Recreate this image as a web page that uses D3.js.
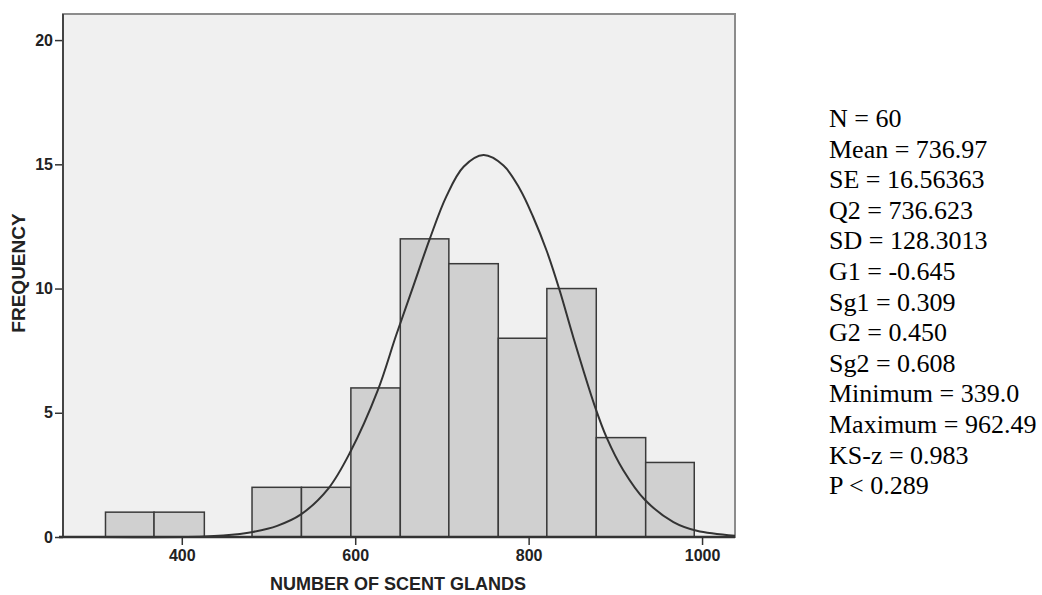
<!DOCTYPE html>
<html>
<head>
<meta charset="utf-8">
<script src="https://cdn.jsdelivr.net/npm/d3@7"></script>
<style>
  body { margin: 0; background: #fff; }
  svg text { font-family: "Liberation Sans", Arial, sans-serif; }
</style>
</head>
<body>
<div id="chart"></div>
<script>
// histogram bins (edges) and counts
const binEdges = [312, 368, 426, 481, 538, 595, 652, 708, 765, 821, 878, 935, 991];
const counts = [1, 1, 0, 2, 2, 6, 12, 11, 8, 10, 4, 3];

// fitted normal curve [value, frequency]
const curveX = [300, 426, 467, 482, 510, 537, 569, 594, 626, 647, 667, 686, 705, 725, 748, 771, 790, 805, 821, 836, 851, 876, 890, 909, 934, 967, 994, 1038];
const curveY = [0, 0.02, 0.12, 0.2, 0.45, 0.9, 1.95, 3.4, 5.9, 8.1, 10.1, 12.0, 13.7, 14.9, 15.37, 14.95, 14.0, 12.9, 11.5, 9.9, 8.1, 5.3, 4.0, 2.7, 1.5, 0.6, 0.25, 0.05];

const xTicks = [400, 600, 800, 1000];
const yTicks = [0, 5, 10, 15, 20];

const statLines = [
  "N = 60", "Mean = 736.97", "SE = 16.56363", "Q2 = 736.623", "SD = 128.3013",
  "G1 = -0.645", "Sg1 = 0.309", "G2 = 0.450", "Sg2 = 0.608",
  "Minimum = 339.0", "Maximum = 962.49", "KS-z = 0.983", "P < 0.289"
];

const W = 1042, H = 595;
const plot = { left: 63, top: 14, right: 735, bottom: 537 };

const svg = d3.select("#chart").append("svg")
  .attr("width", W)
  .attr("height", H);

const x = d3.scaleLinear().domain([263, 1038]).range([plot.left, plot.right]);
const y = d3.scaleLinear().domain([0, 21.05]).range([plot.bottom, plot.top]);

// plot background
svg.append("rect")
  .attr("x", plot.left)
  .attr("y", plot.top)
  .attr("width", plot.right - plot.left)
  .attr("height", plot.bottom - plot.top)
  .attr("fill", "#f0f0f0")
  .attr("stroke", "#8c8c8c")
  .attr("stroke-width", 2);

// bars
const bins = counts.map((c, i) => ({ x0: binEdges[i], x1: binEdges[i + 1], n: c }))
  .filter(d => d.n > 0);

svg.selectAll(".bar")
  .data(bins)
  .join("rect")
  .attr("class", "bar")
  .attr("x", d => x(d.x0))
  .attr("y", d => y(d.n))
  .attr("width", d => x(d.x1) - x(d.x0))
  .attr("height", d => y(0) - y(d.n))
  .attr("fill", "#d0d0d0")
  .attr("stroke", "#3a3a3a")
  .attr("stroke-width", 1.5);

// normal curve
const pts = curveX.map((v, i) => [v, curveY[i]]);
svg.append("path")
  .datum(pts)
  .attr("fill", "none")
  .attr("stroke", "#333")
  .attr("stroke-width", 2)
  .attr("d", d3.line()
    .x(d => x(d[0]))
    .y(d => y(d[1]))
    .curve(d3.curveCatmullRom.alpha(0.5)));

// axes
const xAxis = svg.append("g")
  .attr("transform", `translate(0,${plot.bottom})`)
  .call(d3.axisBottom(x).tickValues(xTicks).tickSize(8).tickPadding(5).tickFormat(d3.format("d")));
xAxis.select(".domain").remove();

const yAxis = svg.append("g")
  .attr("transform", `translate(${plot.left},0)`)
  .call(d3.axisLeft(y).tickValues(yTicks).tickSize(8).tickPadding(2));
yAxis.select(".domain").remove();

[xAxis, yAxis].forEach(a => {
  a.selectAll(".tick line").attr("stroke", "#333").attr("stroke-width", 1.5);
  a.selectAll(".tick text")
    .attr("fill", "#222")
    .style("font-size", "16px")
    .style("font-weight", "bold");
});

// dark axis lines
svg.append("line")
  .attr("x1", plot.left).attr("x2", plot.left)
  .attr("y1", plot.top).attr("y2", plot.bottom)
  .attr("stroke", "#444").attr("stroke-width", 2);
svg.append("line")
  .attr("x1", plot.left - 4).attr("x2", plot.right)
  .attr("y1", plot.bottom).attr("y2", plot.bottom)
  .attr("stroke", "#333").attr("stroke-width", 2.5);

// axis titles
svg.append("text")
  .attr("x", 398)
  .attr("y", 590)
  .attr("text-anchor", "middle")
  .style("font-size", "18px")
  .style("font-weight", "bold")
  .attr("fill", "#222")
  .text("NUMBER OF SCENT GLANDS");

svg.append("text")
  .attr("transform", `translate(25,${273}) rotate(-90)`)
  .attr("text-anchor", "middle")
  .style("font-size", "19px")
  .style("font-weight", "bold")
  .attr("fill", "#222")
  .text("FREQUENCY");

// statistics block
svg.append("g")
  .selectAll("text")
  .data(statLines)
  .join("text")
  .attr("x", 829)
  .attr("y", (d, i) => 127 + i * 30.6)
  .style("font-family", "'Liberation Serif', 'Times New Roman', serif")
  .style("font-size", "26px")
  .attr("fill", "#000")
  .text(d => d);
</script>
</body>
</html>
